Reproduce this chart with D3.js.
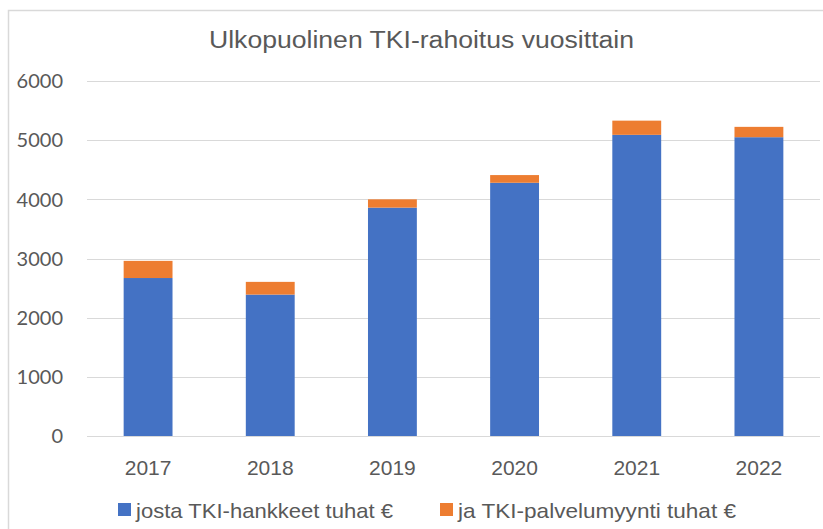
<!DOCTYPE html>
<html>
<head>
<meta charset="utf-8">
<script src="https://cdn.jsdelivr.net/npm/d3@7"></script>
<style>
  body { margin: 0; background: #fff; }
  svg { display: block; }
</style>
</head>
<body>
<svg id="chart" width="823" height="529"></svg>
<script>
var years = ["2017", "2018", "2019", "2020", "2021", "2022"];
var hankkeet = [2670, 2390, 3860, 4280, 5090, 5050];
var palvelumyynti = [290, 215, 140, 130, 240, 175];
var yTicks = [0, 1000, 2000, 3000, 4000, 5000, 6000];
var seriesNames = ["josta TKI-hankkeet tuhat \u20ac", "ja TKI-palvelumyynti tuhat \u20ac"];
var seriesColors = ["#4472C4", "#ED7D31"];

var svg = d3.select("#chart");
var font = "'Liberation Sans', Arial, sans-serif";
var textColor = "#595959";

// chart area frame (only left and top edges are in view)
svg.append("rect")
    .attr("x", 8.5).attr("y", 10.5)
    .attr("width", 840).attr("height", 540)
    .attr("fill", "none")
    .attr("stroke", "#d9d9d9")
    .attr("stroke-width", 1.5);

var margin = {left: 87, right: 3, top: 81, bottom: 93};
var width = 823 - margin.left - margin.right,
    height = 529 - margin.top - margin.bottom;

var g = svg.append("g").attr("transform", "translate(" + margin.left + "," + margin.top + ")");

var xScale = d3.scaleBand().domain(years).range([0, width]).paddingInner(0.6).paddingOuter(0.3);
var yScale = d3.scaleLinear().domain([0, 6000]).range([height, 0]);

// gridlines
g.selectAll("line.grid").data(yTicks).enter().append("line")
    .attr("class", "grid")
    .attr("x1", 0).attr("x2", width)
    .attr("y1", function(d) { return Math.round(yScale(d)) + 0.5; })
    .attr("y2", function(d) { return Math.round(yScale(d)) + 0.5; })
    .attr("stroke", "#d9d9d9")
    .attr("stroke-width", 1.2);

// y labels
g.selectAll("text.ytick").data(yTicks).enter().append("text")
    .attr("class", "ytick")
    .attr("x", -24)
    .attr("y", function(d) { return yScale(d); })
    .attr("dy", "0.36em")
    .attr("text-anchor", "end")
    .attr("fill", textColor)
    .style("font-family", "Lato, sans-serif")
    .style("font-size", "20px")
    .text(function(d) { return d; });

// stacked bars
var stackData = years.map(function(y, i) {
    return {year: y, a: hankkeet[i], b: palvelumyynti[i]};
});
var layers = d3.stack().keys(["a", "b"])(stackData);

g.selectAll("g.layer").data(layers).enter().append("g")
    .attr("class", "layer")
    .attr("fill", function(d, i) { return seriesColors[i]; })
    .selectAll("rect").data(function(d) { return d; }).enter().append("rect")
    .attr("x", function(d) { return xScale(d.data.year); })
    .attr("width", xScale.bandwidth())
    .attr("y", function(d) { return yScale(d[1]); })
    .attr("height", function(d) { return yScale(d[0]) - yScale(d[1]); });

// x labels
g.selectAll("text.xtick").data(years).enter().append("text")
    .attr("class", "xtick")
    .attr("x", function(d) { return xScale(d) + xScale.bandwidth() / 2; })
    .attr("y", height + 39)
    .attr("text-anchor", "middle")
    .attr("fill", textColor)
    .style("font-family", font)
    .style("font-size", "21px")
    .text(function(d) { return d; });

// title
svg.append("text")
    .attr("x", 209).attr("y", 48)
    .attr("textLength", 425)
    .attr("lengthAdjust", "spacingAndGlyphs")
    .attr("fill", textColor)
    .style("font-family", font)
    .style("font-size", "23px")
    .text("Ulkopuolinen TKI-rahoitus vuosittain");

// legend
var legendX = [118, 440];
var legendTextLen = [257, 278];
var legend = svg.selectAll("g.legend").data(seriesNames).enter().append("g")
    .attr("class", "legend")
    .attr("transform", function(d, i) { return "translate(" + legendX[i] + ",503)"; });
legend.append("rect")
    .attr("width", 13).attr("height", 13)
    .attr("fill", function(d, i) { return seriesColors[i]; });
legend.append("text")
    .attr("x", 18).attr("y", 7)
    .attr("dy", "0.36em")
    .attr("textLength", function(d, i) { return legendTextLen[i]; })
    .attr("lengthAdjust", "spacingAndGlyphs")
    .attr("fill", textColor)
    .style("font-family", font)
    .style("font-size", "21px")
    .text(function(d) { return d; });
</script>
</body>
</html>
